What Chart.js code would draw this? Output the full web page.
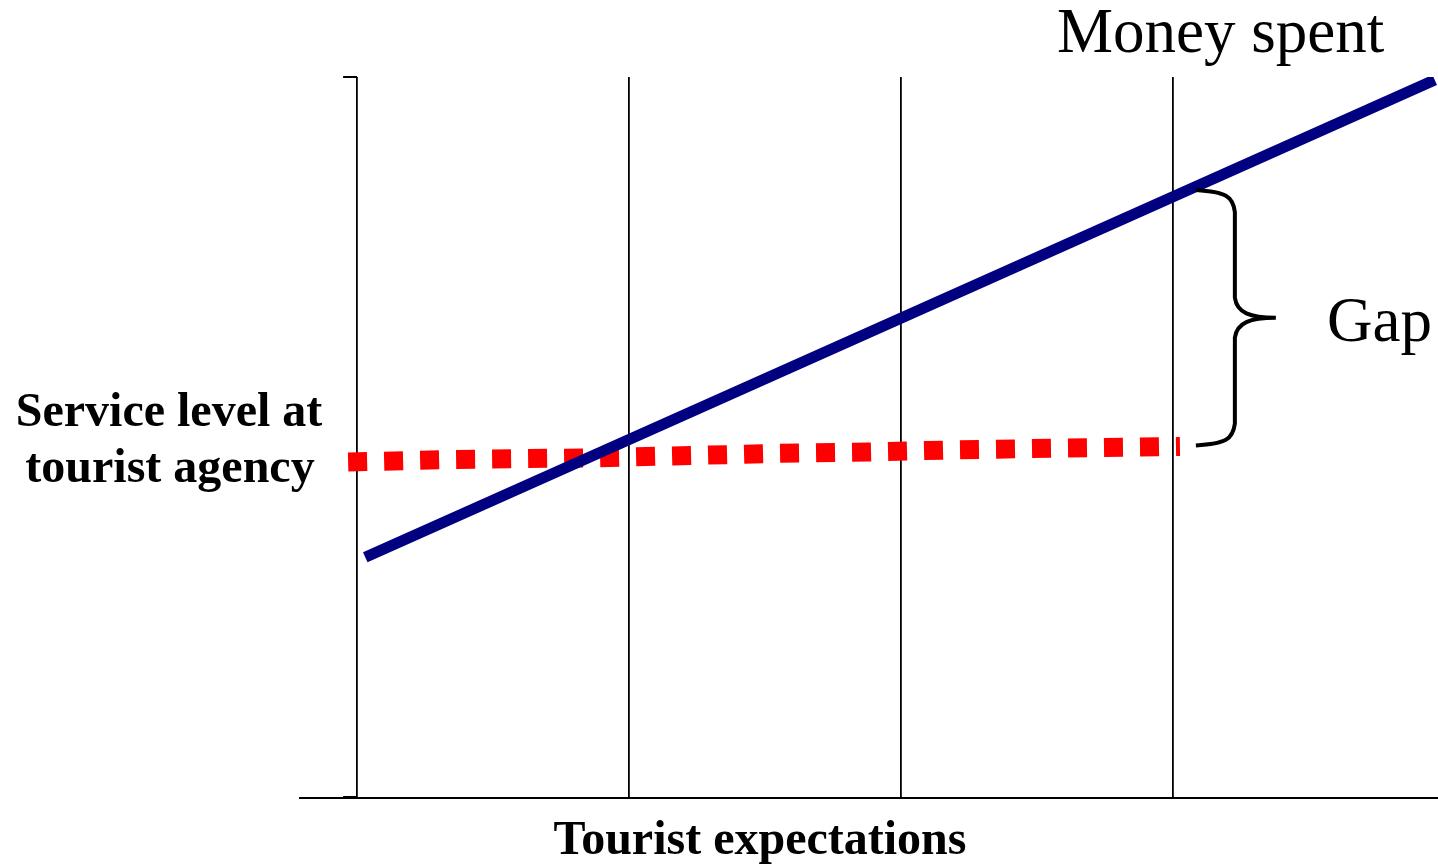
<!DOCTYPE html>
<html>
<head>
<meta charset="utf-8">
<script src="https://cdn.jsdelivr.net/npm/chart.js@4/dist/chart.umd.min.js"></script>
<style>
  html, body { margin: 0; padding: 0; background: #fff; }
  #wrap { width: 1438px; height: 866px; position: relative; }
</style>
</head>
<body>
<div id="wrap"><canvas id="gap-chart"></canvas></div>
<script>
'use strict';

// x = tourist expectations, y = level (0..100)
var gridX = [0, 1, 2, 3];
var moneyX = [0.03, 3.963];
var moneyY = [33.4, 99.6];
var serviceX = [-0.033, 0.36, 0.893, 1.555, 1.886, 2.217, 2.548, 3.026];
var serviceY = [46.6, 46.95, 47.2, 47.8, 48.0, 48.3, 48.5, 48.75];

var xMin = -0.21, xMax = 3.975;
var yMin = 0, yMax = 100;

var serif = "'Liberation Serif', 'Times New Roman', serif";

var toPoints = function(xs, ys) {
    var pts = [];
    for (var i = 0; i < xs.length; i++) {
        pts.push({x: xs[i], y: ys[i]});
    }
    return pts;
};

var annotate = {
    id: 'annotate',
    afterDraw: function(chart) {
        var ctx = chart.ctx;
        var xs = chart.scales.x;
        var ys = chart.scales.y;
        var x0 = xs.getPixelForValue(0);
        var top = ys.getPixelForValue(yMax);
        var bottom = ys.getPixelForValue(yMin);

        ctx.save();
        // small brackets on the vertical axis
        ctx.strokeStyle = '#000';
        ctx.lineWidth = 2;
        ctx.beginPath();
        ctx.moveTo(x0 - 14, top);
        ctx.lineTo(x0, top);
        ctx.moveTo(x0 - 14, bottom - 1);
        ctx.lineTo(x0, bottom - 1);
        ctx.stroke();

        // brace between the two lines at the last grid line
        var bx = xs.getPixelForValue(3);
        var yTop = ys.getPixelForValue(moneyY[0] + (moneyY[1] - moneyY[0]) * (3.08 - moneyX[0]) / (moneyX[1] - moneyX[0])) + 3;
        var yBot = ys.getPixelForValue(serviceY[serviceY.length - 1]) - 1;
        var yMid = (yTop + yBot) / 2;
        var l = bx + 23, c = bx + 62, r = bx + 103;
        ctx.lineWidth = 4;
        ctx.beginPath();
        ctx.moveTo(l, yTop);
        ctx.bezierCurveTo(l + 30, yTop + 2, c - 2, yTop + 6, c, yTop + 22);
        ctx.lineTo(c, yMid - 20);
        ctx.bezierCurveTo(c + 2, yMid - 5, c + 15, yMid, r, yMid);
        ctx.bezierCurveTo(c + 15, yMid, c + 2, yMid + 5, c, yMid + 20);
        ctx.lineTo(c, yBot - 22);
        ctx.bezierCurveTo(c - 2, yBot - 6, l + 30, yBot - 2, l, yBot);
        ctx.stroke();

        // texts
        ctx.fillStyle = '#000';
        ctx.textBaseline = 'alphabetic';
        ctx.font = '63px ' + serif;
        ctx.textAlign = 'left';
        ctx.fillText('Money spent', 1057, 52);
        ctx.fillText('Gap', 1327, 341);

        ctx.font = 'bold 48px ' + serif;
        ctx.textAlign = 'center';
        ctx.fillText('Service level at', 169, 426);
        ctx.fillText('tourist agency', 170, 482);
        ctx.fillText('Tourist expectations', 760, 854);
        ctx.restore();
    }
};

var chart = new Chart(document.getElementById('gap-chart').getContext('2d'), {
    type: 'line',
    data: {
        datasets: [
            {
                label: 'Money spent',
                data: toPoints(moneyX, moneyY),
                borderColor: '#000080',
                borderWidth: 11,
                pointRadius: 0,
                fill: false
            },
            {
                label: 'Service level at tourist agency',
                data: toPoints(serviceX, serviceY),
                borderColor: '#ff0000',
                borderWidth: 19,
                borderDash: [19, 17],
                borderCapStyle: 'butt',
                pointRadius: 0,
                fill: false
            }
        ]
    },
    options: {
        responsive: true,
        maintainAspectRatio: false,
        animation: false,
        layout: { padding: { left: 300, right: 0, top: 77, bottom: 68 } },
        plugins: { legend: { display: false }, tooltip: { enabled: false } },
        scales: {
            x: {
                type: 'linear',
                min: xMin,
                max: xMax,
                afterBuildTicks: function(scale) {
                    scale.ticks = gridX.map(function(v) { return {value: v}; });
                },
                ticks: { display: false },
                grid: { color: '#000', lineWidth: 1.8, drawTicks: false },
                border: { display: true, color: '#000', width: 2 }
            },
            y: {
                type: 'linear',
                display: false,
                min: yMin,
                max: yMax
            }
        }
    },
    plugins: [annotate]
});
</script>
</body>
</html>
